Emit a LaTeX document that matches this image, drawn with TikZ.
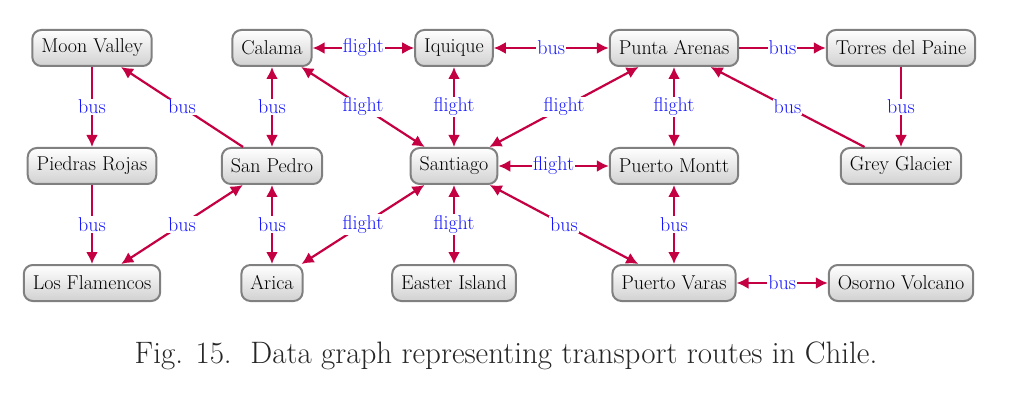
\documentclass[tikz,border=0pt]{standalone}
\usetikzlibrary{arrows.meta}
\definecolor{edge}{RGB}{196,0,66}
\definecolor{lbl}{RGB}{20,20,255}
\begin{document}
\begin{tikzpicture}[x=1pt,y=-1pt,
  n/.style={draw=black!50,line width=2pt,rounded corners=9pt,top color=white,bottom color=black!18,minimum height=36pt,inner xsep=9pt,font=\fontsize{20}{22}\selectfont},
  e/.style={draw=edge,line width=2.2pt,-{Latex[length=12pt,width=12pt]}},
  b/.style={e,{Latex[length=12pt,width=12pt]}-{Latex[length=12pt,width=12pt]}},
  l/.style={fill=white,text=lbl,inner sep=1pt,font=\fontsize{20}{22}\selectfont}]
\useasboundingbox (0,0) rectangle (1026,401);
\node[n] (mv) at (92,48) {Moon Valley};
\node[n] (ca) at (272,48) {Calama};
\node[n] (iq) at (454,48) {Iquique};
\node[n] (pa) at (674,48) {Punta Arenas};
\node[n] (tp) at (901,48) {Torres del Paine};
\node[n] (pr) at (92,166) {Piedras Rojas};
\node[n] (sp) at (272,166) {San Pedro};
\node[n] (sa) at (454,166) {Santiago};
\node[n] (pm) at (674,166) {Puerto Montt};
\node[n] (gg) at (901,166) {Grey Glacier};
\node[n] (lf) at (92,283) {Los Flamencos};
\node[n] (ar) at (272,283) {Arica};
\node[n] (ei) at (454,283) {Easter Island};
\node[n] (pv) at (674,283) {Puerto Varas};
\node[n] (ov) at (901,283) {Osorno Volcano};
\draw[e] (mv) -- node[l]{bus} (pr);
\draw[e] (pr) -- node[l]{bus} (lf);
\draw[e] (sp) -- node[l]{bus} (mv);
\draw[b] (sp) -- node[l]{bus} (lf);
\draw[b] (ca) -- node[l]{bus} (sp);
\draw[b] (sp) -- node[l]{bus} (ar);
\draw[b] (ca) -- node[l]{flight} (iq);
\draw[b] (ca) -- node[l]{flight} (sa);
\draw[b] (iq) -- node[l]{flight} (sa);
\draw[b] (iq) -- node[l]{bus} (pa);
\draw[e] (pa) -- node[l]{bus} (tp);
\draw[e] (tp) -- node[l]{bus} (gg);
\draw[e] (gg) -- node[l]{bus} (pa);
\draw[b] (sa) -- node[l]{flight} (pa);
\draw[b] (pa) -- node[l]{flight} (pm);
\draw[b] (sa) -- node[l]{flight} (pm);
\draw[b] (sa) -- node[l]{flight} (ar);
\draw[b] (sa) -- node[l]{flight} (ei);
\draw[b] (sa) -- node[l]{bus} (pv);
\draw[b] (pm) -- node[l]{bus} (pv);
\draw[b] (pv) -- node[l]{bus} (ov);
\node[font=\fontsize{31}{34}\selectfont,text=black!85] (cap) at (506,356) {Fig. 15.\ \ Data graph representing transport routes in Chile.};
\end{tikzpicture}
\end{document}
